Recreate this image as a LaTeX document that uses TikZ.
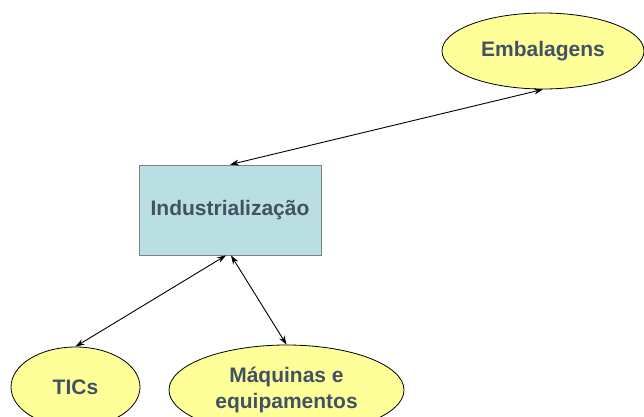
\documentclass[tikz,border=0pt]{standalone}
\usepackage{fontspec}
\setmainfont{Liberation Sans}
\usetikzlibrary{shapes.geometric,arrows.meta}
\definecolor{textblue}{RGB}{65,82,100}
\definecolor{boxcyan}{RGB}{185,223,226}
\definecolor{ovalyellow}{RGB}{255,255,153}

\begin{document}
\begin{tikzpicture}[x=1pt,y=-1pt,>={Stealth[length=9pt,width=6pt]},
                line width=0.9pt,
                oval node/.style={ellipse,draw=black,fill=ovalyellow,line width=0.8pt,inner sep=0pt,
                  font=\fontsize{21}{26}\selectfont\bfseries,text=textblue,align=center},
                box node/.style={rectangle,draw=gray,fill=boxcyan,line width=0.8pt,
                  minimum width=182pt,minimum height=90pt,
                  font=\fontsize{21}{26}\selectfont\bfseries,text=textblue}]
                \useasboundingbox (0,0) rectangle (644,416);
                \node[box node] (ind) at (230,210) {Industrialização};
                \node[oval node,minimum width=202pt,minimum height=76pt] (emb) at (543,51) {Embalagens};
                \node[oval node,minimum width=129pt,minimum height=80pt] (tic) at (75.5,387) {TICs};
                \node[oval node,minimum width=235pt,minimum height=90pt] (maq) at (286.5,390) {Máquinas e\\equipamentos};
                
                \path[<->]
                (ind.north) edge (emb.south)
                ([xshift=-4pt]ind.south) edge (tic.north)
                ([xshift=1pt]ind.south) edge (maq.north)
                ;
                \end{tikzpicture}
\end{document}
